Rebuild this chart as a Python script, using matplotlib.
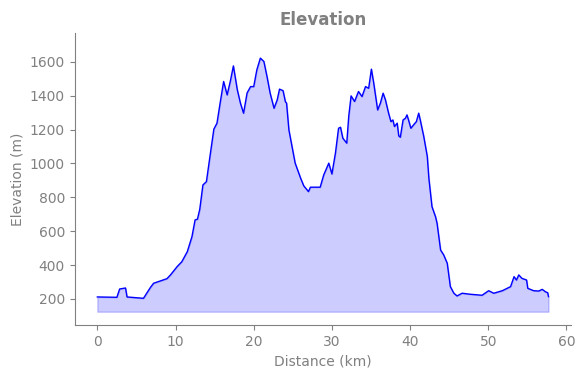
import matplotlib

matplotlib.use("Agg")
import matplotlib.pyplot as plt

# elevation profile (km, m)
distance_km = [
    0.0, 2.5, 2.85, 3.6, 3.8, 5.9, 6.8, 7.2, 8.9, 9.35, 10.2, 10.8, 11.5,
    12.1, 12.5, 12.8, 13.1, 13.5, 13.95, 14.4, 14.9, 15.3, 15.7, 16.15,
    16.6, 17.0, 17.4, 17.9, 18.3, 18.7, 19.15, 19.6, 20.0, 20.4, 20.85,
    21.3, 21.7, 22.1, 22.6, 23.0, 23.3, 23.75, 24.05, 24.2, 24.5, 24.9,
    25.3, 26.0, 26.4, 27.0, 27.25, 28.5, 28.95, 29.6, 30.0, 30.45, 30.85,
    31.1, 31.4, 31.9, 32.15, 32.45, 32.9, 33.4, 33.85, 34.3, 34.7, 35.05,
    35.35, 35.85, 36.2, 36.55, 36.85, 37.25, 37.55, 37.8, 38.0, 38.35,
    38.55, 38.75, 39.1, 39.4, 39.6, 39.8, 40.1, 40.55, 40.8, 41.1, 41.3,
    41.75, 42.2, 42.4, 42.8, 43.25, 43.45, 43.9, 44.3, 44.75, 45.15, 45.6,
    46.0, 46.65, 47.7, 49.2, 50.05, 50.7, 51.8, 52.85, 53.3, 53.6, 53.9,
    54.3, 54.9, 55.05, 55.8, 56.45, 56.9, 57.3, 57.6, 57.7,
]
elevation_m = [
    212, 210, 259, 265, 212, 204, 269, 293, 320, 342, 391, 420, 479,
    568, 667, 671, 730, 873, 893, 1041, 1203, 1238, 1356, 1484,
    1405, 1484, 1576, 1435, 1356, 1297, 1416, 1454, 1454, 1553, 1622,
    1602, 1513, 1415, 1326, 1375, 1439, 1430, 1365, 1356, 1198, 1100,
    1002, 913, 868, 834, 860, 860, 932, 1002, 938, 1061, 1208,
    1214, 1149, 1120, 1277, 1399, 1366, 1425, 1395, 1454, 1444, 1557,
    1474, 1316, 1356, 1415, 1375, 1297, 1247, 1257, 1218, 1238,
    1163, 1155, 1257, 1267, 1287, 1257, 1208, 1234, 1247, 1297, 1257,
    1159, 1041, 913, 745, 686, 647, 489, 460, 411, 273, 234,
    218, 234, 228, 222, 249, 234, 249, 273, 332, 312, 342,
    322, 312, 263, 249, 247, 257, 243, 237, 214,
]
fill_base = 125

GREY = "#808080"

fig = plt.figure(figsize=(5.84, 3.78), dpi=100)
ax = fig.add_axes([0.128, 0.14, 0.85, 0.773])

ax.fill_between(distance_km, elevation_m, fill_base, color="blue", alpha=0.2)
ax.plot(distance_km, elevation_m, color="blue", linewidth=1)

ax.set_xlim(-2.89, 60.6)
ax.set_ylim(46, 1771)
ax.set_xticks([0, 10, 20, 30, 40, 50, 60])
ax.set_yticks([200, 400, 600, 800, 1000, 1200, 1400, 1600])

ax.set_title("Elevation", fontsize=12, fontweight="bold", color=GREY)
ax.set_xlabel("Distance (km)", fontsize=10, color=GREY)
ax.set_ylabel("Elevation (m)", fontsize=10, color=GREY)

for side in ["top", "right"]:
    ax.spines[side].set_visible(False)
for side in ["left", "bottom"]:
    ax.spines[side].set_color(GREY)
ax.tick_params(colors=GREY, labelsize=10)

fig.savefig("out.png", dpi=100)
